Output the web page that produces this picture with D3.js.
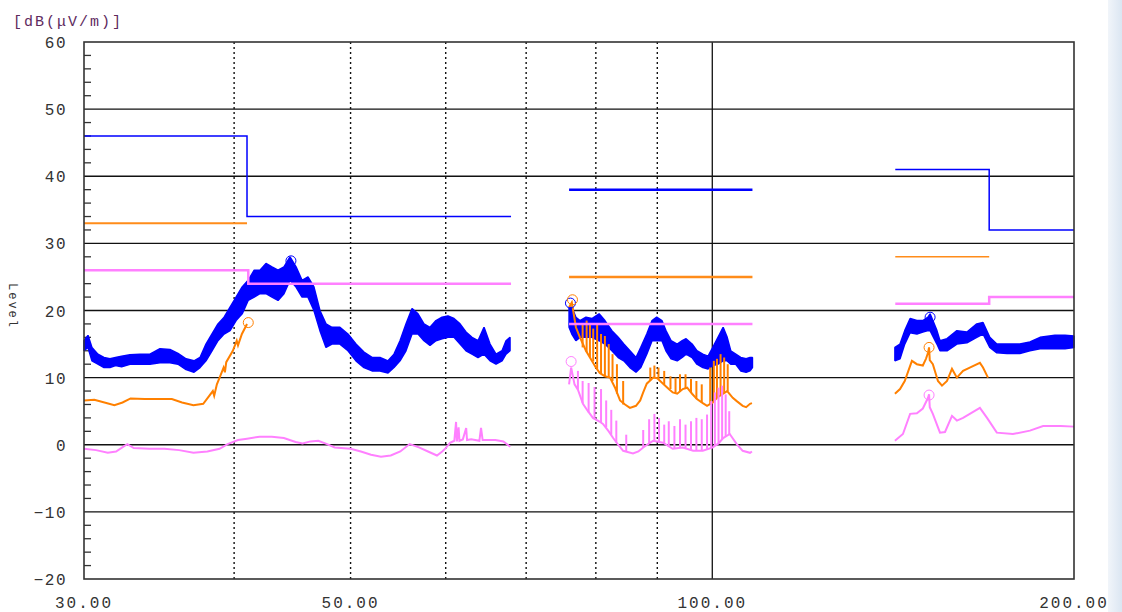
<!DOCTYPE html>
<html>
<head>
<meta charset="utf-8">
<script src="https://cdn.jsdelivr.net/npm/d3@7"></script>
<style>
  body { margin: 0; background: #fff; }
  svg text { font-family: "Liberation Mono", "DejaVu Sans Mono", monospace; }
</style>
</head>
<body>
<svg id="chart" width="1122" height="612"></svg>
<script>
// axis setup
const yTicks = [-20, -10, 0, 10, 20, 30, 40, 50, 60];
const xLabels = [30, 50, 100, 200];
const dottedGrid = [40, 50, 60, 70, 80, 90];
const solidGrid = [100];

// limit lines, [freq MHz, dBuV/m] step points
const blueLimits = [
    [[30, 46], [41, 34], [68, 34]],
    [[76, 38], [108, 38]],
    [[142, 41], [170, 32], [200, 32]]
];
const orangeLimits = [
    [[30, 33], [41, 33]],
    [[76, 25], [108, 25]],
    [[142, 28], [170, 28]]
];
const pinkLimits = [
    [[30, 26], [41.1, 24], [68, 24]],
    [[76, 18], [108, 18]],
    [[142, 21], [170, 22], [200, 22]]
];

// blue (peak) trace: [freq, low, high] of the noise band
const blueA = [
    [30.00, 14.0, 15.5], [30.23, 14.5, 16.3], [30.46, 12.5, 14.5], [30.81, 12.0, 13.5],
    [31.17, 11.5, 13.0], [31.53, 11.5, 12.8], [31.87, 11.8, 13.0], [32.24, 11.6, 13.2],
    [32.76, 12.0, 13.4], [33.40, 12.0, 13.5], [34.04, 12.0, 13.5], [34.70, 12.2, 14.3],
    [35.37, 12.2, 14.2], [35.92, 12.0, 13.6], [36.48, 11.2, 12.8], [37.04, 10.8, 12.5],
    [37.47, 11.5, 13.0], [37.90, 12.5, 15.0], [38.34, 14.0, 16.5], [38.78, 15.5, 18.0],
    [39.24, 16.5, 19.0], [39.69, 17.0, 20.5], [40.15, 18.5, 22.0], [40.62, 19.5, 23.5],
    [41.09, 21.5, 24.5], [41.57, 22.0, 26.0], [42.03, 22.5, 26.0], [42.52, 22.5, 27.0],
    [43.01, 22.0, 26.5], [43.51, 21.5, 26.0], [44.01, 22.5, 26.5], [44.52, 24.5, 28.0],
    [45.04, 23.5, 26.5], [45.56, 22.0, 24.5], [46.08, 22.0, 25.0], [46.61, 20.0, 23.5],
    [47.15, 17.0, 20.0], [47.70, 14.5, 18.0], [48.25, 15.0, 17.5], [48.99, 15.0, 17.5],
    [49.75, 14.0, 16.5], [50.52, 12.5, 15.0], [51.30, 11.5, 13.8], [52.10, 11.0, 13.0],
    [52.90, 11.0, 13.0], [53.72, 10.7, 12.5], [54.34, 11.5, 13.5], [54.97, 12.5, 15.5],
    [55.60, 14.0, 18.0], [56.25, 16.5, 20.3], [56.90, 16.5, 19.5], [57.55, 15.5, 18.0],
    [58.22, 14.8, 17.5], [58.89, 15.5, 18.5], [59.58, 15.8, 19.0], [60.26, 16.0, 19.2],
    [60.96, 16.0, 18.8], [61.67, 15.0, 18.0], [62.38, 14.0, 16.8], [63.10, 13.5, 16.0],
    [63.83, 13.0, 15.5], [64.57, 13.5, 17.5], [65.32, 12.5, 15.0], [66.07, 12.0, 13.5],
    [66.84, 12.5, 14.0], [67.35, 13.5, 15.5], [67.87, 14.0, 16.0]
];
const blueB = [
    [76.0, 17.5, 20.5], [76.4, 16.5, 20.5], [77.0, 15.5, 19.0], [77.6, 16.0, 18.5],
    [78.5, 16.0, 19.0], [79.4, 16.0, 18.8], [80.5, 15.5, 19.5], [81.4, 15.0, 18.5],
    [82.5, 14.0, 17.0], [83.5, 13.0, 16.0], [84.4, 12.5, 15.0], [85.4, 11.5, 14.0],
    [86.4, 10.8, 13.0], [87.2, 11.5, 14.5], [88.2, 13.5, 16.5], [89.1, 15.5, 18.5],
    [89.9, 15.5, 19.0], [90.8, 15.5, 18.5], [91.5, 14.0, 17.0], [92.4, 12.8, 15.5],
    [93.5, 12.5, 15.0], [94.4, 13.0, 15.5], [95.1, 13.5, 15.8], [96.2, 13.0, 15.0],
    [97.1, 12.0, 14.0], [98.2, 11.5, 13.5], [99.2, 11.3, 13.2], [100.1, 11.8, 14.5],
    [101.1, 12.0, 16.0], [102.1, 12.5, 17.5], [102.9, 12.5, 16.0], [103.6, 12.0, 14.0],
    [104.6, 12.0, 13.5], [105.6, 11.0, 13.0], [106.7, 10.8, 12.8], [107.5, 11.0, 13.0],
    [108.0, 11.5, 13.0]
];
const blueC = [
    [141.9, 12.5, 14.5], [143.3, 12.8, 15.0], [144.6, 15.0, 17.0], [146.1, 16.7, 18.8],
    [148.0, 16.5, 18.5], [149.7, 16.8, 18.5], [151.2, 17.0, 19.0], [151.8, 17.0, 19.5],
    [153.8, 15.0, 17.0], [154.7, 14.0, 15.5], [156.8, 14.0, 15.8], [159.8, 15.0, 17.0],
    [162.9, 15.2, 16.8], [166.0, 16.0, 18.0], [168.0, 16.5, 18.2], [170.2, 14.5, 16.0],
    [172.5, 13.7, 15.0], [175.9, 13.6, 15.0], [180.3, 13.6, 15.0], [183.8, 14.0, 15.3],
    [187.4, 14.3, 16.0], [192.8, 14.3, 16.3], [196.6, 14.3, 16.3], [200.0, 14.5, 16.2]
];

// orange (quasi-peak) trace: [freq, level]
const orangeA = [
    [30.0, 6.6], [30.6, 6.7], [31.2, 6.3], [31.8, 5.9], [32.3, 6.3], [32.8, 6.9],
    [33.7, 6.8], [34.7, 6.8], [35.5, 6.8], [36.2, 6.3], [37.0, 5.9], [37.7, 6.1],
    [38.0, 6.9], [38.4, 8.0], [38.5, 7.3], [38.7, 9.0], [39.0, 10.5], [39.2, 11.5],
    [39.3, 10.8], [39.4, 12.3], [39.9, 14.0], [40.2, 15.5], [40.3, 14.8], [40.6, 16.5],
    [41.0, 18.0]
];
const orangeB = [
    [76.0, 20.5], [76.4, 21.2], [77.0, 17.5], [77.6, 16.0], [78.5, 14.0], [79.1, 13.0],
    [80.0, 11.5], [80.6, 10.7], [81.4, 10.2], [82.2, 10.0], [83.0, 8.5], [83.8, 6.6],
    [84.6, 6.0], [85.4, 5.5], [86.4, 5.8], [87.1, 6.6], [87.6, 7.8], [88.2, 9.1],
    [89.3, 10.0], [90.0, 9.9], [91.0, 9.1], [92.0, 8.3], [92.7, 7.8], [93.5, 7.6],
    [94.5, 8.3], [95.3, 8.5], [96.2, 7.6], [97.1, 6.8], [98.2, 6.2], [99.0, 5.8],
    [100.1, 6.3], [100.9, 7.0], [102.1, 7.6], [102.9, 8.0], [104.0, 7.0], [104.8, 6.5],
    [106.0, 5.8], [106.7, 5.6], [107.5, 6.1], [107.9, 6.2]
];
const orangeC = [
    [141.9, 7.6], [143.3, 8.3], [144.6, 9.5], [146.6, 12.5], [148.0, 12.0], [149.7, 11.8],
    [150.6, 12.8], [151.2, 13.7], [151.5, 14.5], [151.7, 12.6], [152.6, 12.0], [154.1, 9.5],
    [155.3, 8.8], [156.8, 9.5], [158.3, 11.3], [159.8, 10.0], [161.7, 11.0], [163.8, 11.5],
    [167.0, 12.2], [168.0, 11.5], [169.6, 10.0]
];
// orange spikes: [freq, from, to]
const orangeSpikesB = [
    [78.0, 14.5, 18.0], [78.6, 13.8, 18.5], [79.1, 13.0, 18.0], [79.6, 12.4, 17.3],
    [80.2, 11.3, 18.0], [80.8, 10.6, 16.5], [81.4, 10.2, 16.2], [82.0, 10.0, 15.0],
    [82.6, 9.5, 13.5], [83.3, 7.6, 12.0], [84.3, 6.0, 9.5], [88.8, 9.6, 11.5],
    [89.5, 10.0, 11.8], [90.2, 9.8, 11.5], [91.2, 9.0, 11.0], [92.3, 8.3, 10.2],
    [93.2, 7.7, 10.0], [94.0, 8.0, 10.5], [95.0, 8.4, 10.5], [96.0, 7.8, 9.8],
    [97.0, 6.8, 9.5], [98.0, 6.3, 9.0], [99.6, 6.0, 11.5], [100.3, 6.4, 12.5],
    [100.9, 7.0, 12.8], [101.6, 7.3, 13.5], [102.3, 7.7, 13.0], [103.0, 8.0, 12.0]
];

// pink (average) trace: [freq, level]
const pinkA = [
    [30.0, -0.6], [30.7, -0.8], [31.4, -1.2], [31.9, -1.0], [32.4, -0.2], [32.6, 0.1],
    [33.0, -0.5], [34.0, -0.6], [35.0, -0.6], [36.0, -0.8], [37.0, -1.2], [38.0, -1.0],
    [38.9, -0.6], [39.5, 0.1], [40.3, 0.7], [41.0, 0.9], [42.0, 1.2], [43.0, 1.2],
    [44.0, 1.0], [45.0, 0.4], [45.6, 0.2], [46.3, 0.5], [47.0, 0.6], [47.8, 0.1],
    [48.5, -0.4], [50.0, -0.6], [51.0, -1.0], [52.0, -1.5], [53.0, -1.8], [54.0, -1.6],
    [55.0, -1.0], [56.0, 0.1], [57.0, -0.4], [58.0, -1.0], [59.0, -1.6], [59.6, -1.0],
    [60.0, -0.5], [60.5, 0.3], [61.0, 0.6], [61.2, 3.4], [61.3, 0.5], [61.5, 2.6],
    [61.6, 0.6], [62.0, 0.8], [62.4, 2.5], [62.5, 0.7], [63.0, 0.8], [64.0, 0.6],
    [64.2, 2.5], [64.4, 0.7], [66.0, 0.7], [67.0, 0.5], [67.9, -0.3]
];
const pinkB = [
    [76.0, 9.0], [76.3, 11.5], [76.8, 9.0], [77.3, 8.2], [78.05, 6.1], [78.8, 5.0],
    [79.56, 4.0], [80.5, 3.5], [81.1, 3.1], [82.0, 2.0], [82.7, 1.0], [83.5, 0.0],
    [84.3, -0.9], [85.9, -1.3], [86.8, -1.0], [87.6, -0.4], [88.6, 0.2], [89.3, 0.6],
    [91.0, 0.3], [92.7, -0.6], [94.5, -0.4], [96.4, -0.9], [98.2, -0.9], [100.1, -0.4],
    [101.2, 0.2], [102.1, 1.0], [103.4, 1.6], [104.8, 0.1], [106.0, -0.9], [107.5, -1.2],
    [107.9, -1.0]
];
const pinkC = [
    [141.9, 0.6], [144.1, 1.6], [146.1, 4.6], [148.0, 4.7], [149.7, 5.4], [151.2, 7.0],
    [151.5, 7.5], [151.7, 5.6], [152.6, 4.6], [154.7, 1.8], [156.2, 1.9], [158.3, 4.3],
    [159.8, 3.6], [161.7, 4.0], [163.8, 4.6], [167.0, 5.5], [169.3, 4.0], [172.5, 1.8],
    [177.9, 1.6], [183.8, 2.1], [188.5, 2.8], [195.0, 2.8], [200.0, 2.7]
];
const pinkSpikesB = [
    [77.3, 8.2, 11.0], [78.0, 6.2, 9.5], [78.9, 4.8, 9.2], [79.8, 3.8, 8.6],
    [80.8, 3.3, 8.3], [81.6, 2.6, 6.6], [82.4, 1.5, 5.2], [83.2, 0.3, 3.6],
    [84.8, -1.0, 1.5], [87.6, -0.4, 2.2], [88.6, 0.2, 3.8], [89.5, 0.6, 4.6],
    [90.3, 0.5, 4.0], [91.2, 0.2, 3.0], [92.0, -0.3, 3.5], [93.0, -0.6, 2.8],
    [94.0, -0.5, 3.8], [95.0, -0.5, 3.0], [96.0, -0.8, 3.5], [97.0, -0.9, 4.0],
    [98.0, -0.9, 3.8], [99.0, -0.7, 4.5], [99.8, -0.5, 6.5], [100.5, -0.2, 7.8],
    [101.2, 0.2, 8.5], [101.9, 0.8, 8.8], [102.6, 1.2, 7.5], [103.3, 1.5, 5.0]
];

// peak markers: [freq, level, color key]
const markers = [
    [44.6, 27.4, 'blue'], [41.1, 18.2, 'orange'],
    [76.2, 21.1, 'blue'], [76.5, 21.6, 'orange'], [76.3, 12.4, 'pink'],
    [151.8, 19.0, 'blue'], [151.5, 14.5, 'orange'], [151.5, 7.4, 'pink']
];

const colors = { blue: '#0000ff', orange: '#ff8000', pink: '#ff80ff' };

const svg = d3.select('#chart');
const plotL = 84, plotR = 1074, plotT = 42, plotB = 579;

const x = d3.scaleLog().domain([30, 200]).range([plotL, plotR]);
const y = d3.scaleLinear().domain([-20, 60]).range([plotB, plotT]);

svg.append('rect').attr('width', 1122).attr('height', 612).attr('fill', '#fff');

// light window strip at the right edge
const grad = svg.append('defs').append('linearGradient').attr('id', 'strip');
grad.append('stop').attr('offset', '0%').attr('stop-color', '#f1f5fa');
grad.append('stop').attr('offset', '100%').attr('stop-color', '#dbe6f2');
svg.append('rect').attr('x', 1108).attr('y', 0).attr('width', 14).attr('height', 612).attr('fill', 'url(#strip)');

// title and axis label
svg.append('text')
    .attr('x', 13).attr('y', 26)
    .attr('fill', '#5e2a5e')
    .attr('font-size', 15)
    .attr('letter-spacing', 2)
    .text('[dB(\u03bcV/m)]');

svg.append('text')
    .attr('transform', 'translate(9,283) rotate(90)')
    .attr('fill', '#333')
    .attr('font-size', 12)
    .attr('letter-spacing', 2)
    .text('Level');

// horizontal grid
svg.append('g').selectAll('line')
    .data(yTicks.filter(d => d > -20 && d < 60))
    .enter().append('line')
    .attr('x1', plotL).attr('x2', plotR)
    .attr('y1', d => y(d)).attr('y2', d => y(d))
    .attr('stroke', '#111').attr('stroke-width', 1.3);

// vertical grid
svg.append('g').selectAll('line')
    .data(dottedGrid)
    .enter().append('line')
    .attr('x1', d => x(d)).attr('x2', d => x(d))
    .attr('y1', plotT).attr('y2', plotB)
    .attr('stroke', '#111').attr('stroke-width', 1.4)
    .attr('stroke-dasharray', '2,3');

svg.append('g').selectAll('line')
    .data(solidGrid)
    .enter().append('line')
    .attr('x1', d => x(d)).attr('x2', d => x(d))
    .attr('y1', plotT).attr('y2', plotB)
    .attr('stroke', '#111').attr('stroke-width', 1.3);

// minor y ticks
svg.append('g').selectAll('line')
    .data(d3.range(-18, 60, 2).filter(d => d % 10 !== 0))
    .enter().append('line')
    .attr('x1', plotL).attr('x2', plotL + 7)
    .attr('y1', d => y(d)).attr('y2', d => y(d))
    .attr('stroke', '#333').attr('stroke-width', 1.3);

// tick labels
svg.append('g').selectAll('text')
    .data(yTicks)
    .enter().append('text')
    .attr('x', 67).attr('y', d => y(d) + 6)
    .attr('text-anchor', 'end')
    .attr('fill', '#333')
    .attr('font-size', 16)
    .attr('letter-spacing', 1.5)
    .text(d => d < 0 ? '\u2212' + Math.abs(d) : d);

svg.append('g').selectAll('text')
    .data(xLabels)
    .enter().append('text')
    .attr('x', d => x(d)).attr('y', 608)
    .attr('text-anchor', 'middle')
    .attr('fill', '#333')
    .attr('font-size', 16)
    .attr('letter-spacing', 2)
    .text(d => d3.format('.2f')(d));

const line = d3.line().x(d => x(d[0])).y(d => y(d[1]));
const stepLine = d3.line().x(d => x(d[0])).y(d => y(d[1])).curve(d3.curveStepAfter);
const band = d3.area().x(d => x(d[0])).y0(d => y(d[1])).y1(d => y(d[2]));

// blue peak traces
svg.append('g').selectAll('path')
    .data([blueA, blueB, blueC])
    .enter().append('path')
    .attr('d', band)
    .attr('fill', colors.blue)
    .attr('stroke', colors.blue)
    .attr('stroke-width', 1.5)
    .attr('stroke-linejoin', 'bevel');

// orange traces + spikes
svg.append('g').selectAll('path')
    .data([orangeA, orangeB, orangeC])
    .enter().append('path')
    .attr('d', line)
    .attr('fill', 'none')
    .attr('stroke', colors.orange)
    .attr('stroke-width', 2);

svg.append('g').selectAll('line')
    .data(orangeSpikesB)
    .enter().append('line')
    .attr('x1', d => x(d[0])).attr('x2', d => x(d[0]))
    .attr('y1', d => y(d[1])).attr('y2', d => y(d[2]))
    .attr('stroke', colors.orange).attr('stroke-width', 2);

// pink traces + spikes
svg.append('g').selectAll('line')
    .data(pinkSpikesB)
    .enter().append('line')
    .attr('x1', d => x(d[0])).attr('x2', d => x(d[0]))
    .attr('y1', d => y(d[1])).attr('y2', d => y(d[2]))
    .attr('stroke', colors.pink).attr('stroke-width', 2);

svg.append('g').selectAll('path')
    .data([pinkA, pinkB, pinkC])
    .enter().append('path')
    .attr('d', line)
    .attr('fill', 'none')
    .attr('stroke', colors.pink)
    .attr('stroke-width', 2);

// limit lines
const blueWidths = [1.5, 2.5, 1.5];
blueLimits.forEach((seg, i) => {
    svg.append('path').attr('d', stepLine(seg))
        .attr('fill', 'none').attr('stroke', colors.blue)
        .attr('stroke-width', blueWidths[i]);
});
const orangeWidths = [2, 2.5, 1.5];
orangeLimits.forEach((seg, i) => {
    svg.append('path').attr('d', stepLine(seg))
        .attr('fill', 'none').attr('stroke', '#ff8c1a')
        .attr('stroke-width', orangeWidths[i]);
});
pinkLimits.forEach(seg => {
    svg.append('path').attr('d', stepLine(seg))
        .attr('fill', 'none').attr('stroke', colors.pink)
        .attr('stroke-width', 2.5);
});

// peak markers
svg.append('g').selectAll('circle')
    .data(markers)
    .enter().append('circle')
    .attr('cx', d => x(d[0])).attr('cy', d => y(d[1]))
    .attr('r', 5)
    .attr('fill', 'none')
    .attr('stroke', d => colors[d[2]])
    .attr('stroke-width', 1);

// frame
svg.append('rect')
    .attr('x', plotL).attr('y', plotT)
    .attr('width', plotR - plotL).attr('height', plotB - plotT)
    .attr('fill', 'none')
    .attr('stroke', '#333').attr('stroke-width', 1.6);
</script>
</body>
</html>
